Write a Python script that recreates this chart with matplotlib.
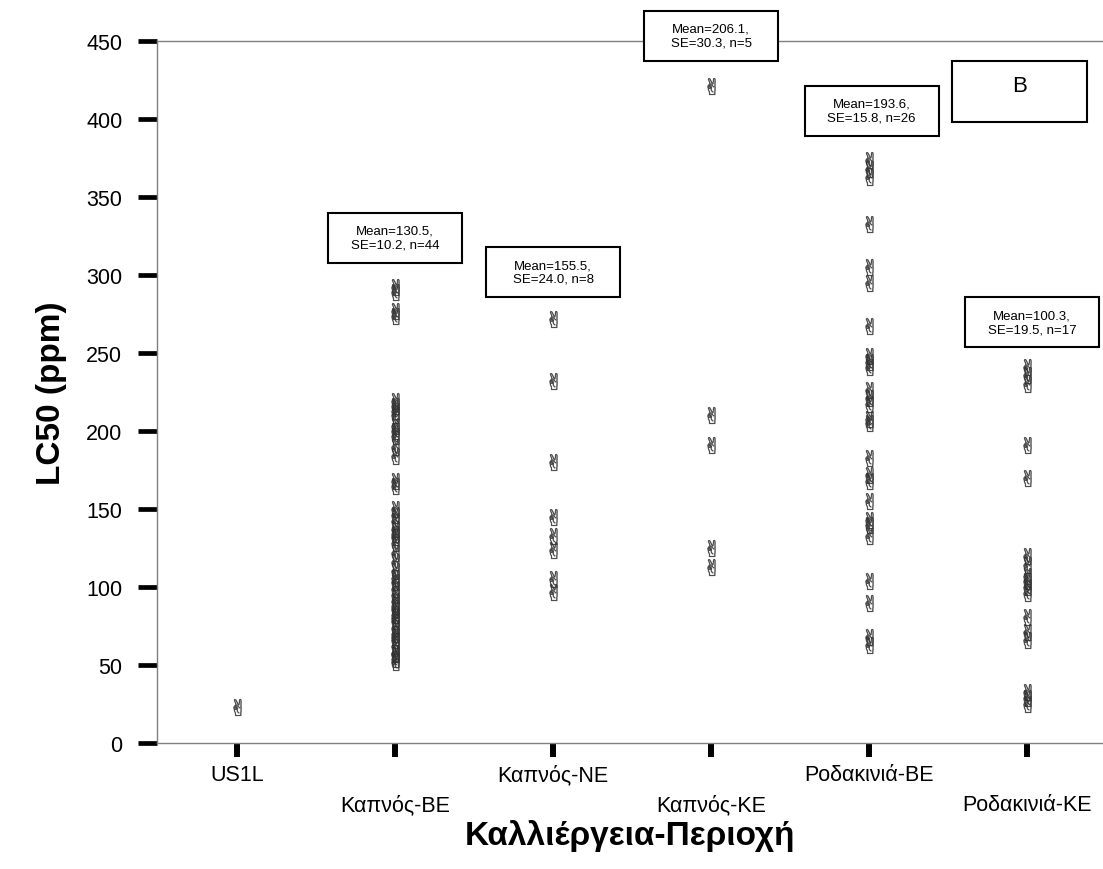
import matplotlib
matplotlib.use("Agg")
import matplotlib.pyplot as plt
from matplotlib.patches import Rectangle

plt.rcParams["font.family"] = ["Liberation Sans", "DejaVu Sans"]

categories = ["US1L", "Καπνός-BE", "Καπνός-NE", "Καπνός-KE", "Ροδακινιά-BE", "Ροδακινιά-KE"]

us1l = [23]
kapnos_be = [292, 289, 277, 274, 219, 216, 213, 210, 203, 200, 197, 190, 184, 168, 165,
             150, 146, 142, 137, 134, 132, 128, 122, 116, 110, 106, 103, 99, 95, 91,
             88, 86, 82, 78, 74, 70, 66, 62, 58, 54, 52, 57, 68, 80]
kapnos_ne = [272, 232, 180, 145, 133, 124, 105, 97]
kapnos_ke = [421, 210, 191, 125, 113]
rodakinia_be = [374, 368, 363, 333, 305, 295, 267, 248, 244, 241, 226, 221, 217, 208, 205,
                183, 172, 168, 155, 143, 140, 133, 104, 90, 68, 63]
rodakinia_ke = [241, 236, 230, 191, 170, 120, 114, 107, 104, 100, 96, 81, 71, 66, 33, 29, 25]
groups = [us1l, kapnos_be, kapnos_ne, kapnos_ke, rodakinia_be, rodakinia_ke]

# summary boxes: (x position, y position, text)
box_x = [1.0, 2.0, 3.0, 4.016, 5.03]
box_y = [324, 302, 453.5, 405.4, 269.6]
box_texts = ["Mean=130.5,\nSE=10.2, n=44",
             "Mean=155.5,\nSE=24.0, n=8",
             "Mean=206.1,\nSE=30.3, n=5",
             "Mean=193.6,\nSE=15.8, n=26",
             "Mean=100.3,\nSE=19.5, n=17"]
panel_label = "B"
panel_x, panel_y = 4.95, 417.6

fig = plt.figure(figsize=(11.03, 8.70), dpi=100)
ax = fig.add_axes([157 / 1103, 1 - 744 / 870, 1 - 157 / 1103, (744 - 42) / 870])

for i, vals in enumerate(groups):
    ax.plot([i] * len(vals), vals, linestyle="none", marker="$✌$", markersize=12,
            color="#333333", alpha=0.8, markeredgewidth=0.4, markeredgecolor="#333333")

bw, bh = 134 / 158, 50 / 1.56
for xb, yb, txt in zip(box_x, box_y, box_texts):
    ax.add_patch(Rectangle((xb - bw / 2, yb - bh / 2), bw, bh, facecolor="white",
                           edgecolor="black", linewidth=1.5, clip_on=False, zorder=3))
    ax.text(xb, yb, txt, ha="center", va="center", fontsize=9.5, clip_on=False,
            zorder=4, linespacing=1.15)

pw, ph = 135 / 158, 61 / 1.56
ax.add_patch(Rectangle((panel_x - pw / 2, panel_y - ph / 2), pw, ph, facecolor="white",
                       edgecolor="black", linewidth=1.5, clip_on=False, zorder=3))
ax.text(panel_x, panel_y + 4, panel_label, ha="center", va="center", fontsize=16, zorder=4)

ax.set_xlim(-0.506, 5.48)
ax.set_ylim(0, 450)
ax.set_yticks(range(0, 451, 50))
ax.set_xticks(range(len(categories)))
ax.set_xticklabels(categories)
for lbl in ax.get_xticklabels()[1::2]:
    lbl.set_y(-0.043)

ax.tick_params(axis="y", direction="out", length=14, width=3.4, color="black",
               labelsize=15.5, pad=11)
ax.tick_params(axis="x", direction="out", length=10, width=4.3, color="black",
               labelsize=15.5, pad=5)

for side in ["left", "bottom", "top"]:
    ax.spines[side].set_color("#808080")
    ax.spines[side].set_linewidth(1.0)
ax.spines["right"].set_visible(False)

ax.set_ylabel("LC50 (ppm)", fontsize=24, fontweight="bold", labelpad=14)
ax.set_xlabel("Καλλιέργεια-Περιοχή", fontsize=24, fontweight="bold", labelpad=3)

fig.savefig("out.png", dpi=100)
